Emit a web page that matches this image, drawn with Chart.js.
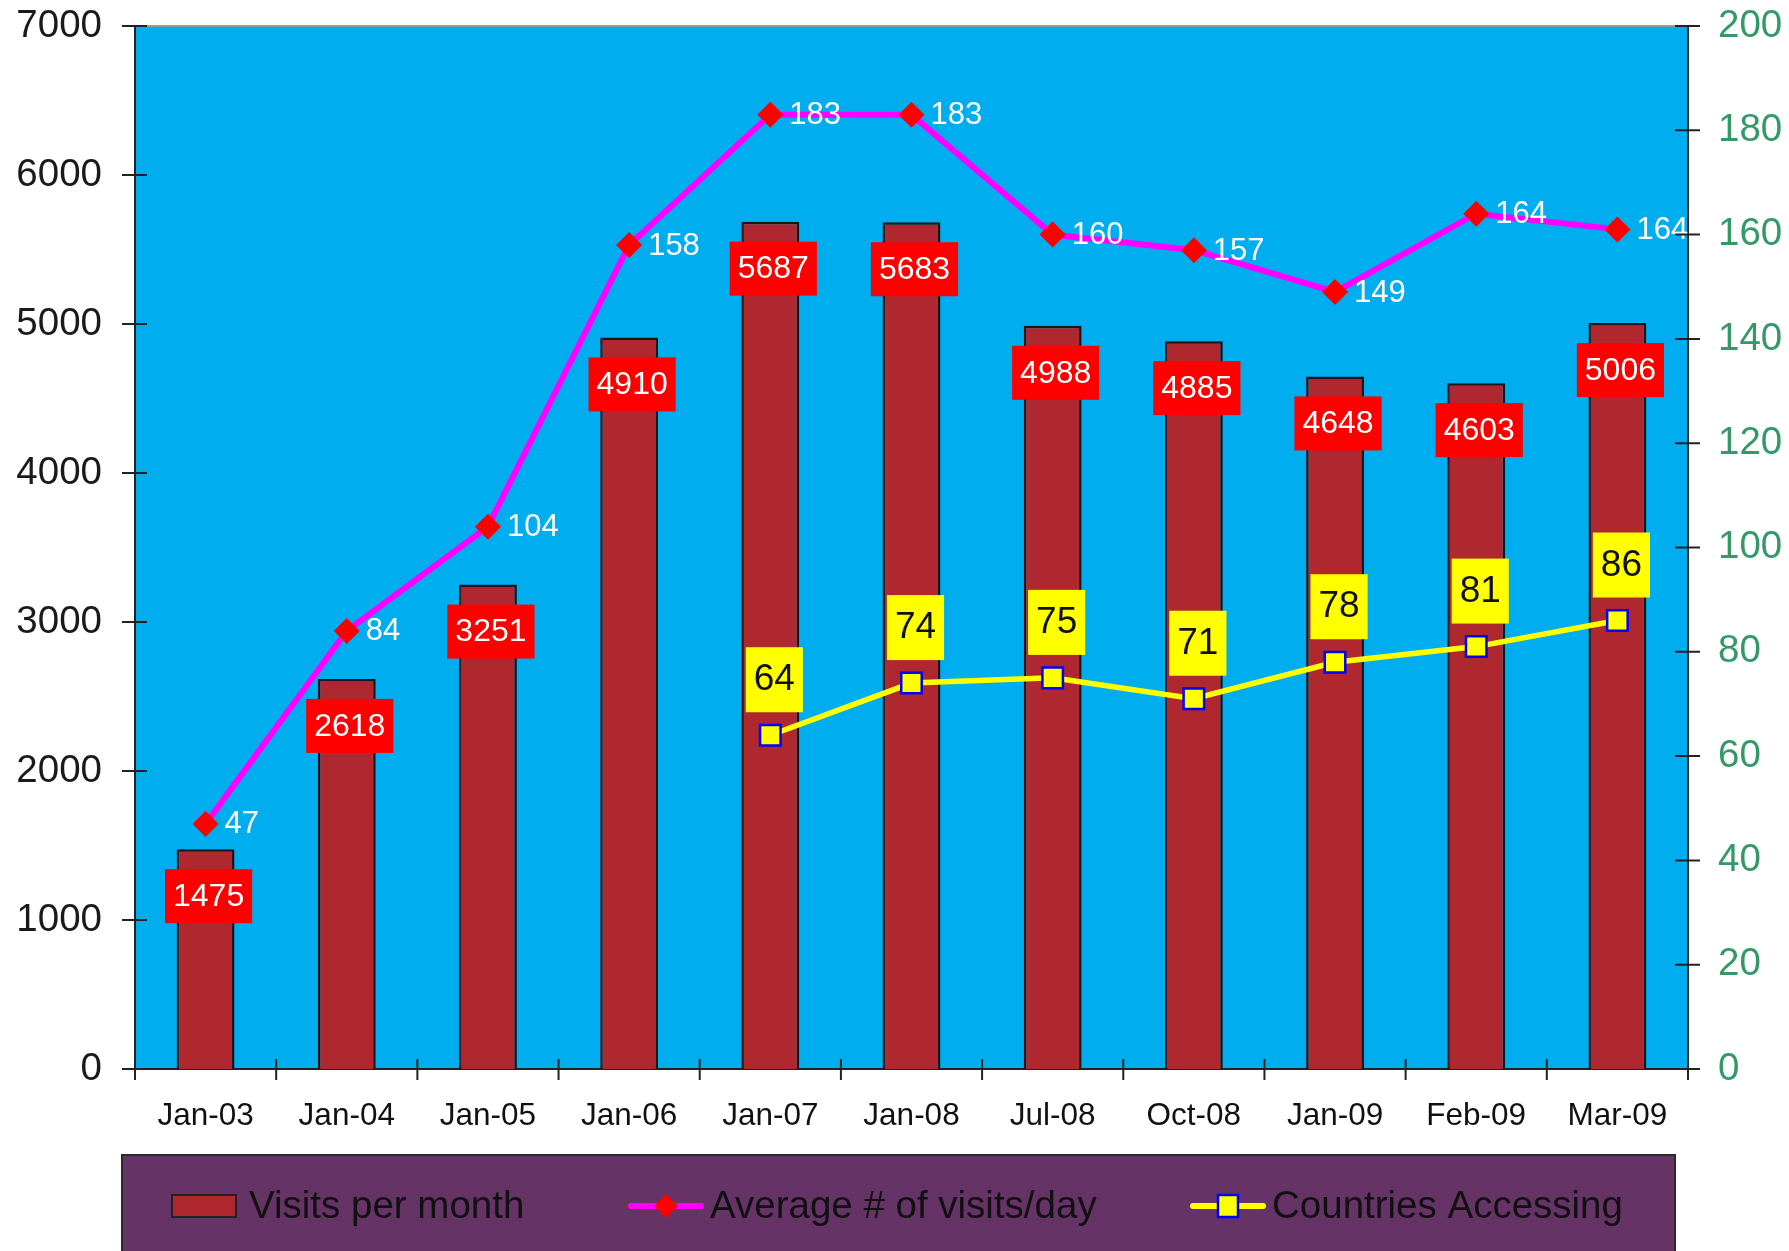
<!DOCTYPE html>
<html>
<head>
<meta charset="utf-8">
<script src="https://cdn.jsdelivr.net/npm/chart.js@4.4.0/dist/chart.umd.min.js"></script>
<style>
html, body { margin: 0; padding: 0; background: #fff; }
</style>
</head>
<body>
<canvas id="grafico" width="1789" height="1251"></canvas>
<script>
const months = ['Jan-03', 'Jan-04', 'Jan-05', 'Jan-06', 'Jan-07', 'Jan-08', 'Jul-08', 'Oct-08', 'Jan-09', 'Feb-09', 'Mar-09'];
const visitsPerMonth = [1475, 2618, 3251, 4910, 5687, 5683, 4988, 4885, 4648, 4603, 5006];
// the last point sits a bit lower than its label says in the original
const avgVisits = [47, 84, 104, 158, 183, 183, 160, 157, 149, 164, 161];
const avgLabels = ['47', '84', '104', '158', '183', '183', '160', '157', '149', '164', '164'];
const countries = [null, null, null, null, 64, 74, 75, 71, 78, 81, 86];
const leftTicks = [0, 1000, 2000, 3000, 4000, 5000, 6000, 7000];
const rightTicks = [0, 20, 40, 60, 80, 100, 120, 140, 160, 180, 200];

const FONT = '"Liberation Sans", Arial, sans-serif';

const plotBackground = {
    id: 'plotBackground',
    beforeDraw(chart) {
        const { ctx, chartArea: a } = chart;
        ctx.save();
        ctx.fillStyle = '#00AEEF';
        ctx.fillRect(a.left, a.top, a.right - a.left, a.bottom - a.top);
        ctx.restore();
    }
};

// value labels: red boxes on the bars, white numbers next to the diamonds, yellow boxes above the squares
const valueLabels = {
    id: 'valueLabels',
    afterDatasetsDraw(chart) {
        const ctx = chart.ctx;
        ctx.save();
        ctx.textBaseline = 'middle';

        ctx.font = '32px ' + FONT;
        ctx.textAlign = 'center';
        chart.getDatasetMeta(0).data.forEach((bar, i) => {
            const txt = String(visitsPerMonth[i]);
            const w = ctx.measureText(txt).width + 16;
            const cy = bar.y + 47;
            ctx.fillStyle = '#FF0000';
            ctx.fillRect(bar.x + 3 - w / 2, cy - 27, w, 54);
            ctx.fillStyle = '#FFFFFF';
            ctx.fillText(txt, bar.x + 3, cy + 1);
        });

        ctx.font = '31px ' + FONT;
        ctx.textAlign = 'left';
        ctx.fillStyle = '#FFFFFF';
        chart.getDatasetMeta(1).data.forEach((pt, i) => {
            ctx.fillText(avgLabels[i], pt.x + 19, pt.y + 1);
        });

        ctx.font = '37px ' + FONT;
        ctx.textAlign = 'center';
        chart.getDatasetMeta(2).data.forEach((pt, i) => {
            if (countries[i] == null) return;
            const txt = String(countries[i]);
            const w = ctx.measureText(txt).width + 16;
            const cy = pt.y - 56;
            ctx.fillStyle = '#FFFF00';
            ctx.fillRect(pt.x + 4 - w / 2, cy - 32, w, 65);
            ctx.fillStyle = '#111111';
            ctx.fillText(txt, pt.x + 4, cy + 1);
        });
        ctx.restore();
    }
};

const axisExtras = {
    id: 'axisExtras',
    afterDraw(chart) {
        const { ctx, chartArea: a } = chart;
        ctx.save();
        // grey top edge of the plot
        ctx.strokeStyle = '#9a9a9a';
        ctx.lineWidth = 2;
        ctx.beginPath();
        ctx.moveTo(a.left, a.top);
        ctx.lineTo(a.right, a.top);
        ctx.stroke();

        // tick marks crossing the axes
        ctx.strokeStyle = '#222222';
        ctx.lineWidth = 2;
        ctx.beginPath();
        const yl = chart.scales.y;
        yl.ticks.forEach((t, i) => {
            const py = yl.getPixelForTick(i);
            ctx.moveTo(a.left - 13, py);
            ctx.lineTo(a.left + 12, py);
        });
        const yr = chart.scales.y1;
        yr.ticks.forEach((t, i) => {
            const py = yr.getPixelForTick(i);
            ctx.moveTo(a.right - 13, py);
            ctx.lineTo(a.right + 12, py);
        });
        const xs = chart.scales.x;
        const step = xs.getPixelForValue(1) - xs.getPixelForValue(0);
        for (let i = 0; i <= months.length; i++) {
            const px = xs.getPixelForValue(0) - step / 2 + i * step;
            ctx.moveTo(px, a.bottom - 10);
            ctx.lineTo(px, a.bottom + 11);
        }
        ctx.stroke();

        // legend box
        ctx.fillStyle = '#663366';
        ctx.fillRect(122, 1155, 1553, 120);
        ctx.strokeStyle = '#2a2a2a';
        ctx.lineWidth = 2;
        ctx.strokeRect(122, 1155, 1553, 120);

        const ds = chart.data.datasets;
        const ly = 1206;
        const swatchX = [172, 631, 1193];
        const textX = [249, 710, 1272];

        ctx.fillStyle = ds[0].backgroundColor;
        ctx.fillRect(swatchX[0], ly - 11, 64, 22);
        ctx.strokeStyle = '#222';
        ctx.strokeRect(swatchX[0], ly - 11, 64, 22);

        [1, 2].forEach(k => {
            const x0 = swatchX[k];
            ctx.strokeStyle = ds[k].borderColor;
            ctx.lineWidth = 6;
            ctx.lineCap = 'round';
            ctx.beginPath();
            ctx.moveTo(x0, ly);
            ctx.lineTo(x0 + 70, ly);
            ctx.stroke();
            const cx = x0 + 35;
            if (k === 1) {
                ctx.fillStyle = ds[k].pointBackgroundColor;
                ctx.beginPath();
                ctx.moveTo(cx - 12, ly);
                ctx.lineTo(cx, ly - 12);
                ctx.lineTo(cx + 12, ly);
                ctx.lineTo(cx, ly + 12);
                ctx.closePath();
                ctx.fill();
            } else {
                ctx.fillStyle = ds[k].pointBackgroundColor;
                ctx.fillRect(cx - 10, ly - 11, 20, 22);
                ctx.strokeStyle = ds[k].pointBorderColor;
                ctx.lineWidth = 2.5;
                ctx.strokeRect(cx - 10, ly - 11, 20, 22);
            }
        });

        ctx.fillStyle = '#111111';
        ctx.font = '38.5px ' + FONT;
        ctx.textAlign = 'left';
        ctx.textBaseline = 'middle';
        ds.forEach((d, k) => ctx.fillText(d.label, textX[k], ly + 1));
        ctx.restore();
    }
};

new Chart(document.getElementById('grafico').getContext('2d'), {
    data: {
        labels: months,
        datasets: [
            {
                type: 'bar',
                label: 'Visits per month',
                data: visitsPerMonth,
                yAxisID: 'y',
                backgroundColor: '#B0282F',
                borderColor: '#161616',
                borderWidth: 2.5,
                barPercentage: 0.41,
                categoryPercentage: 1,
                order: 3
            },
            {
                type: 'line',
                label: 'Average # of visits/day',
                data: avgVisits,
                yAxisID: 'y1',
                borderColor: '#FF00FF',
                borderWidth: 6,
                tension: 0,
                pointStyle: 'rectRot',
                pointRadius: 13,
                pointBackgroundColor: '#FF0000',
                pointBorderColor: '#FF0000',
                pointBorderWidth: 0,
                order: 2
            },
            {
                type: 'line',
                label: 'Countries Accessing',
                data: countries,
                yAxisID: 'y1',
                borderColor: '#FFFF00',
                borderWidth: 5.5,
                tension: 0,
                pointStyle: 'rect',
                pointRadius: 14.5,
                pointBackgroundColor: '#FFFF00',
                pointBorderColor: '#0000FF',
                pointBorderWidth: 2.5,
                order: 1
            }
        ]
    },
    options: {
        responsive: false,
        animation: false,
        layout: { padding: 0 },
        plugins: {
            legend: { display: false },
            tooltip: { enabled: false }
        },
        scales: {
            x: {
                offset: true,
                grid: { display: false, drawTicks: false },
                border: { display: true, color: '#222222', width: 2 },
                ticks: { color: '#111111', font: { family: FONT, size: 31.5 }, padding: 28, maxRotation: 0 },
                afterFit(scale) { scale.height = 182; }
            },
            y: {
                position: 'left',
                min: 0,
                max: 7000,
                afterBuildTicks(scale) { scale.ticks = leftTicks.map(v => ({ value: v })); },
                grid: { display: false, drawTicks: false },
                border: { display: true, color: '#222222', width: 2 },
                ticks: {
                    color: '#1a1a1a',
                    font: { family: FONT, size: 38.5 },
                    padding: 33,
                    callback: v => String(v)
                },
                afterFit(scale) {
                    scale.width = 135;
                    scale.paddingTop = 26;
                    scale.paddingBottom = 0;
                }
            },
            y1: {
                position: 'right',
                min: 0,
                max: 200,
                afterBuildTicks(scale) { scale.ticks = rightTicks.map(v => ({ value: v })); },
                grid: { display: false, drawTicks: false },
                border: { display: true, color: '#222222', width: 2 },
                ticks: {
                    color: '#339966',
                    font: { family: FONT, size: 38.5 },
                    padding: 30,
                    callback: v => String(v)
                },
                afterFit(scale) {
                    scale.width = 101;
                    scale.paddingTop = 26;
                    scale.paddingBottom = 0;
                }
            }
        }
    },
    plugins: [plotBackground, valueLabels, axisExtras]
});
</script>
</body>
</html>
